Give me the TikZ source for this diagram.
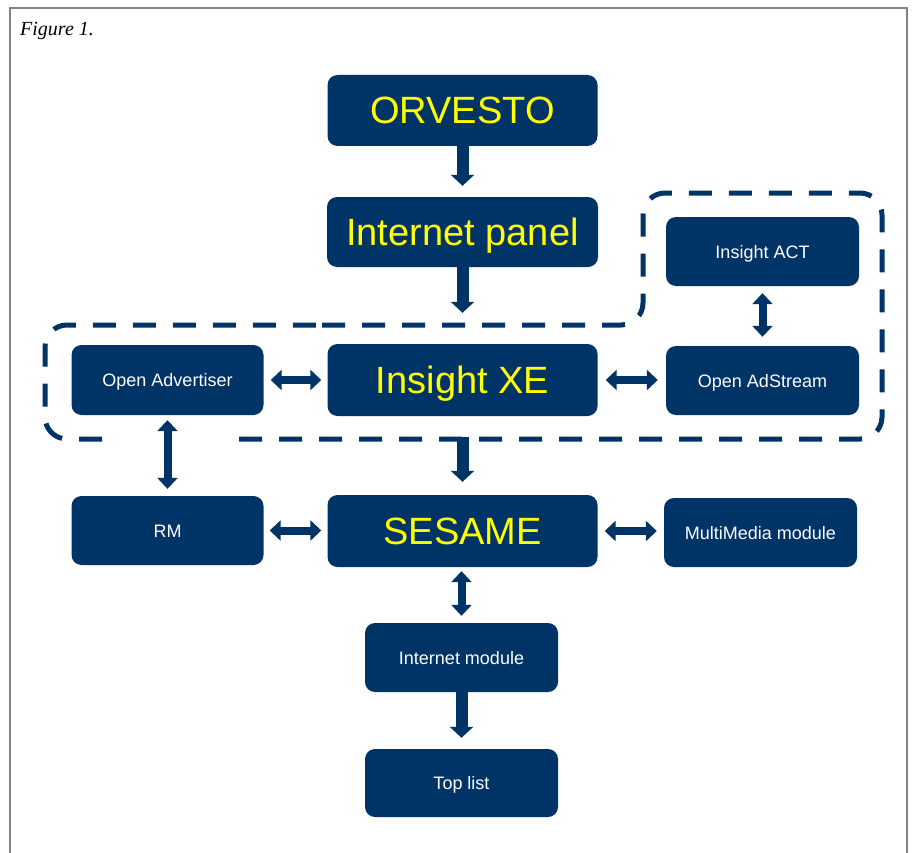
\documentclass[tikz,border=0pt]{standalone}
\usepackage{fontspec}
\setmainfont{Liberation Sans}
\newfontfamily\figfont{Liberation Serif}
\usetikzlibrary{arrows.meta}
\definecolor{navy}{RGB}{0,51,102}
\definecolor{ylw}{RGB}{255,255,0}
\definecolor{framegray}{RGB}{130,130,130}
\begin{document}
\begin{tikzpicture}[x=1pt,y=-1pt,
 box/.style={fill=navy, rounded corners=10pt, inner sep=0pt, anchor=center},
 big/.style={box, text=ylw, font=\fontsize{38}{40}\selectfont, text height=27pt, text depth=0pt},
 small/.style={box, text=white, font=\fontsize{18}{20}\selectfont, text height=13pt, text depth=0pt},
 down/.style={draw=navy, line width=12pt, -{Triangle[width=23pt,length=11pt]}},
 dbl/.style={draw=navy, line width=8pt, {Triangle[width=20pt,length=11pt]}-{Triangle[width=20pt,length=11pt]}},
 dashbox/.style={draw=navy, line width=5pt, dash pattern=on 23pt off 17pt, rounded corners=22pt},
 ]
\useasboundingbox (0,0) rectangle (912,853);
\fill[white] (0,0) rectangle (912,853);
% frame
\draw[framegray, line width=1.5pt] (10,853) -- (10,8) -- (907,8) -- (907,853);
\node[anchor=base west, inner sep=0pt, font=\figfont\itshape\fontsize{20}{22}\selectfont] (title) at (20,36) {Figure 1.};

% dashed grouping outline
\draw[dashbox] (300,325) -- (643,325) -- (643,193) -- (882,193) -- (882,439) -- (45,439) -- (45,325) -- cycle;
\fill[white] (112,430) rectangle (228,449);

% boxes
\node[big, minimum width=270pt, minimum height=71pt] (orvesto) at (462.5,110.5) {ORVESTO};
\node[big, minimum width=271pt, minimum height=70pt] (panel) at (462.5,232) {Internet panel};
\node[big, minimum width=270pt, minimum height=72pt] (xe) at (462.5,380) {Insight XE};
\node[small, minimum width=192pt, minimum height=70pt] (adv) at (167.5,380) {Open Advertiser};
\node[small, minimum width=193pt, minimum height=69pt] (act) at (762.5,251.5) {Insight ACT};
\node[small, minimum width=193pt, minimum height=69pt] (ads) at (762.5,380.5) {Open AdStream};
\node[small, minimum width=192pt, minimum height=69pt] (rm) at (167.5,530.5) {RM};
\node[big, minimum width=270pt, minimum height=72pt] (ses) at (462.5,531) {SESAME};
\node[small, minimum width=193pt, minimum height=69pt] (mm) at (760.5,532.5) {MultiMedia module};
\node[small, minimum width=193pt, minimum height=69pt] (im) at (461.5,657.5) {Internet module};
\node[small, minimum width=193pt, minimum height=68pt] (top) at (461.5,783) {Top list};

% connectors
\draw[down, shorten >=11pt] (orvesto.south) -- (panel.north);
\draw[down, shorten >=31pt] (panel.south) -- (xe.north);
\draw[down, shorten <=21pt, shorten >=13pt] (xe.south) -- (ses.north);
\draw[down, shorten >=11pt] (im.south) -- (top.north);
\draw[dbl, shorten <=7pt, shorten >=6pt] (adv.east) -- (xe.west);
\draw[dbl, shorten <=8pt, shorten >=8pt] (xe.east) -- (xe.east -| ads.west);
\draw[dbl, shorten <=6pt, shorten >=6pt] (rm.east) -- (rm.east -| ses.west);
\draw[dbl, shorten <=7pt, shorten >=7pt] (ses.east) -- (ses.east -| mm.west);
\draw[dbl, shorten <=7pt, shorten >=9pt] (act.south) -- (ads.north);
\draw[dbl, shorten <=5pt, shorten >=7pt] (adv.south) -- (rm.north);
\draw[dbl, shorten <=4pt, shorten >=7pt] (ses.south -| im.north) -- (im.north);
\end{tikzpicture}
\end{document}
